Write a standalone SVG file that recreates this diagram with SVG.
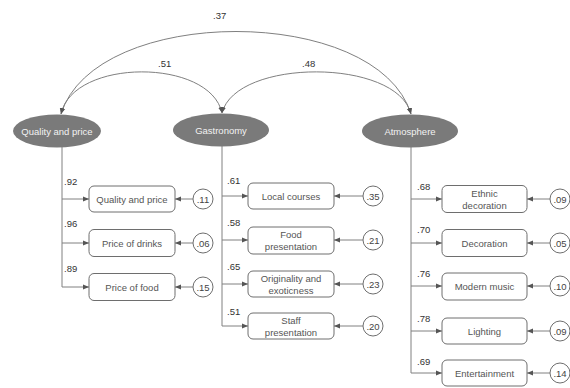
<svg xmlns="http://www.w3.org/2000/svg" width="570" height="388" viewBox="0 0 570 388">
<defs>
<marker id="ah" viewBox="0 0 6 6" refX="6" refY="3" markerWidth="6" markerHeight="6" markerUnits="userSpaceOnUse" orient="auto-start-reverse">
<path d="M0,0.5 L6,3 L0,5.5 z" fill="#555"/>
</marker>
<style>
.ln{fill:none;stroke:#808080;stroke-width:1}
.ar{fill:none;stroke:#808080;stroke-width:1;marker-end:url(#ah)}
.cv{fill:none;stroke:#808080;stroke-width:1;marker-start:url(#ah);marker-end:url(#ah)}
.lat{fill:#7a7a7a}
.lt{font-family:"Liberation Sans",Arial,sans-serif;font-size:9.5px;fill:#f2f2f2;text-anchor:middle}
.box{fill:#fff;stroke:#6e6e6e;stroke-width:1}
.bt{font-family:"Liberation Sans",Arial,sans-serif;font-size:9.5px;fill:#555;text-anchor:middle}
.err{fill:#fff;stroke:#6e6e6e;stroke-width:1}
.et{font-family:"Liberation Sans",Arial,sans-serif;font-size:9.5px;fill:#444;text-anchor:middle}
.lb{font-family:"Liberation Sans",Arial,sans-serif;font-size:9.5px;fill:#333}
</style>
</defs>
<rect width="570" height="388" fill="#fff"/>

<g id="connectors">
<path class="cv" d="M61,114 C95,4 377,4 411,114"/>
<path class="cv" d="M61,114 C73,58 210,58 222,113"/>
<path class="cv" d="M222,113 C236,58 397,58 411,114"/>
<path class="ln" d="M62,147 V287"/>
<path class="ar" d="M62,199 H89"/>
<path class="ar" d="M62,243 H89"/>
<path class="ar" d="M62,287 H89"/>
<path class="ar" d="M193,199 H175"/>
<path class="ar" d="M193,243 H175"/>
<path class="ar" d="M193,287 H175"/>
<path class="ln" d="M222,146 V326"/>
<path class="ar" d="M222,196 H248"/>
<path class="ar" d="M222,240 H248"/>
<path class="ar" d="M222,284 H248"/>
<path class="ar" d="M222,326 H248"/>
<path class="ar" d="M363,196 H334"/>
<path class="ar" d="M363,240 H334"/>
<path class="ar" d="M363,284 H334"/>
<path class="ar" d="M363,326 H334"/>
<path class="ln" d="M411,147 V373"/>
<path class="ar" d="M411,199 H442"/>
<path class="ar" d="M411,243 H442"/>
<path class="ar" d="M411,286 H442"/>
<path class="ar" d="M411,331 H442"/>
<path class="ar" d="M411,373 H442"/>
<path class="ar" d="M550,199 H527"/>
<path class="ar" d="M550,243 H527"/>
<path class="ar" d="M550,286 H527"/>
<path class="ar" d="M550,331 H527"/>
<path class="ar" d="M550,373 H527"/>
</g>

<g id="labels">
<text class="lb" x="213" y="19">.37</text>
<text class="lb" x="158" y="67">.51</text>
<text class="lb" x="302" y="67">.48</text>
<text class="lb" x="64" y="185">.92</text>
<text class="lb" x="64" y="227">.96</text>
<text class="lb" x="64" y="272">.89</text>
<text class="lb" x="227" y="184">.61</text>
<text class="lb" x="227" y="226">.58</text>
<text class="lb" x="227" y="270">.65</text>
<text class="lb" x="227" y="315">.51</text>
<text class="lb" x="417" y="190">.68</text>
<text class="lb" x="417" y="233">.70</text>
<text class="lb" x="417" y="277">.76</text>
<text class="lb" x="417" y="322">.78</text>
<text class="lb" x="417" y="365">.69</text>
</g>

<g id="lat-quality">
<ellipse class="lat" cx="57" cy="131" rx="44" ry="16.5"/>
<text class="lt" x="57" y="135">Quality and price</text>
</g>
<g id="lat-gastronomy">
<ellipse class="lat" cx="221" cy="130" rx="48" ry="16.5"/>
<text class="lt" x="221" y="134">Gastronomy</text>
</g>
<g id="lat-atmosphere">
<ellipse class="lat" cx="410" cy="131" rx="48" ry="16.5"/>
<text class="lt" x="410" y="135">Atmosphere</text>
</g>

<g id="ind-quality">
<rect class="box" x="89" y="186" width="86" height="26" rx="5"/>
<text class="bt" x="132" y="203">Quality and price</text>
</g>
<g id="ind-drinks">
<rect class="box" x="89" y="229.5" width="86" height="27" rx="5"/>
<text class="bt" x="132" y="247">Price of drinks</text>
</g>
<g id="ind-food">
<rect class="box" x="89" y="273.5" width="86" height="27" rx="5"/>
<text class="bt" x="132" y="291">Price of food</text>
</g>
<g id="e1"><circle class="err" cx="203" cy="199" r="10"/><text class="et" x="203" y="203">.11</text></g>
<g id="e2"><circle class="err" cx="203" cy="243" r="10"/><text class="et" x="203" y="247">.06</text></g>
<g id="e3"><circle class="err" cx="203" cy="287" r="10"/><text class="et" x="203" y="291">.15</text></g>

<g id="ind-local">
<rect class="box" x="248" y="183" width="86" height="26" rx="5"/>
<text class="bt" x="291" y="200">Local courses</text>
</g>
<g id="ind-foodpres">
<rect class="box" x="248" y="227" width="86" height="27" rx="5"/>
<text class="bt" x="291" y="238">Food</text>
<text class="bt" x="291" y="250">presentation</text>
</g>
<g id="ind-orig">
<rect class="box" x="248" y="271" width="86" height="26" rx="5"/>
<text class="bt" x="291" y="282">Originality and</text>
<text class="bt" x="291" y="294">exoticness</text>
</g>
<g id="ind-staff">
<rect class="box" x="248" y="313" width="86" height="26" rx="5"/>
<text class="bt" x="291" y="324">Staff</text>
<text class="bt" x="291" y="336">presentation</text>
</g>
<g id="e4"><circle class="err" cx="373" cy="196" r="10"/><text class="et" x="373" y="200">.35</text></g>
<g id="e5"><circle class="err" cx="373" cy="240" r="10"/><text class="et" x="373" y="244">.21</text></g>
<g id="e6"><circle class="err" cx="373" cy="284" r="10"/><text class="et" x="373" y="288">.23</text></g>
<g id="e7"><circle class="err" cx="373" cy="326" r="10"/><text class="et" x="373" y="330">.20</text></g>

<g id="ind-ethnic">
<rect class="box" x="442" y="185.5" width="85" height="27" rx="5"/>
<text class="bt" x="484.5" y="197">Ethnic</text>
<text class="bt" x="484.5" y="209">decoration</text>
</g>
<g id="ind-decoration">
<rect class="box" x="442" y="229.5" width="85" height="27" rx="5"/>
<text class="bt" x="484.5" y="247">Decoration</text>
</g>
<g id="ind-music">
<rect class="box" x="442" y="273" width="85" height="27" rx="5"/>
<text class="bt" x="484.5" y="290">Modern music</text>
</g>
<g id="ind-lighting">
<rect class="box" x="442" y="318" width="85" height="26" rx="5"/>
<text class="bt" x="484.5" y="335">Lighting</text>
</g>
<g id="ind-entertainment">
<rect class="box" x="442" y="360" width="85" height="26" rx="5"/>
<text class="bt" x="484.5" y="377">Entertainment</text>
</g>
<g id="e8"><circle class="err" cx="560" cy="199" r="10"/><text class="et" x="560" y="203">.09</text></g>
<g id="e9"><circle class="err" cx="560" cy="243" r="10"/><text class="et" x="560" y="247">.05</text></g>
<g id="e10"><circle class="err" cx="560" cy="286" r="10"/><text class="et" x="560" y="290">.10</text></g>
<g id="e11"><circle class="err" cx="560" cy="331" r="10"/><text class="et" x="560" y="335">.09</text></g>
<g id="e12"><circle class="err" cx="560" cy="373" r="10"/><text class="et" x="560" y="377">.14</text></g>
</svg>
